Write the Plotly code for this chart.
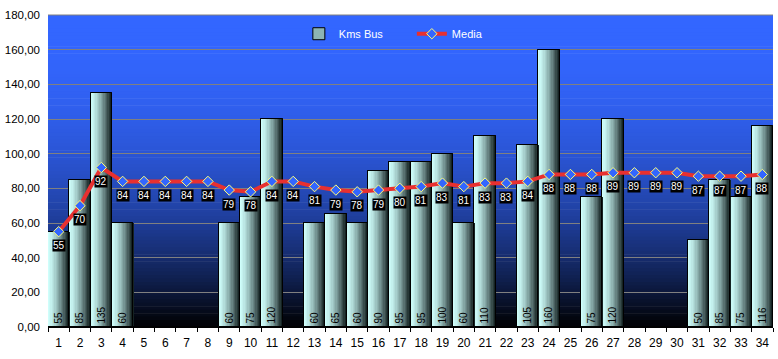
import plotly.graph_objects as go

# ---- data ----
categories = [str(i) for i in range(1, 35)]
kms_bus = [55, 85, 135, 60, 0, 0, 0, 0, 60, 75, 120, 0, 60, 65, 60, 90, 95, 95,
           100, 60, 110, 0, 105, 160, 0, 75, 120, 0, 0, 0, 50, 85, 75, 116]
media = [55, 70, 92, 84, 84, 84, 84, 84, 79, 78, 84, 84, 81, 79, 78, 79, 80, 81,
         83, 81, 83, 83, 84, 88, 88, 88, 89, 89, 89, 89, 87, 87, 87, 88]
y_ticks = [0, 20, 40, 60, 80, 100, 120, 140, 160, 180]

FONT = "Liberation Sans, Arial, sans-serif"

fig = go.Figure()

# bar gradient (left light cyan -> right dark)
light = (208, 255, 252)
dark = (12, 24, 24)
n_slices = 16

def mix(t):
    return "rgb(%d,%d,%d)" % tuple(round(l + (d - l) * t) for l, d in zip(light, dark))

# base trace (legend entry)
fig.add_trace(go.Bar(
    x=categories, y=kms_bus, name="Kms Bus", width=1.0, offset=-0.5,
    marker=dict(color="rgb(140,180,180)", line=dict(color="black", width=1)),
    showlegend=True, hoverinfo="skip"))

for i in range(n_slices):
    t = (i + 0.5) / n_slices
    fig.add_trace(go.Bar(
        x=categories, y=kms_bus, width=1.0 / n_slices + 0.01,
        offset=-0.5 + i / n_slices,
        marker=dict(color=mix(t ** 1.5), line=dict(width=0)),
        showlegend=False, hoverinfo="skip"))

# outline + value labels
fig.add_trace(go.Bar(
    x=categories, y=kms_bus, width=1.0, offset=-0.5,
    marker=dict(color="rgba(0,0,0,0)", line=dict(color="black", width=1)),
    text=[str(v) if v else "" for v in kms_bus],
    textposition="inside", insidetextanchor="start", textangle=-90,
    constraintext="none",
    textfont=dict(family=FONT, size=10, color="black"),
    showlegend=False, hoverinfo="skip"))

fig.add_trace(go.Scatter(
    x=categories, y=media, name="Media", mode="lines+markers",
    line=dict(color="rgb(232,48,48)", width=4),
    marker=dict(symbol="diamond", size=8, color="rgb(51,102,255)",
                line=dict(color="rgb(255,255,120)", width=1)),
    hoverinfo="skip"))

for idx, v in enumerate(media):
    fig.add_annotation(x=idx, y=v, text=str(v), showarrow=False, yshift=-14,
                       bgcolor="black", borderpad=0,
                       font=dict(family=FONT, size=10, color="white"))

# background gradient strips
shapes = []
n_bg = 90
for i in range(n_bg):
    t = (i + 0.5) / n_bg  # from top
    f = max(1 - t ** 2.2, 0.03)
    col = "rgb(%d,%d,%d)" % (round(51 * f), round(102 * f), round(255 * f))
    y1 = 1 - i / n_bg
    y0 = 1 - (i + 1) / n_bg - 0.002
    shapes.append(dict(type="rect", xref="paper", yref="paper", x0=0, x1=1,
                       y0=max(y0, 0), y1=y1, fillcolor=col, line=dict(width=0),
                       layer="below"))
shapes.append(dict(type="line", xref="paper", yref="paper", x0=0, x1=1, y0=1, y1=1,
                   line=dict(color="rgb(128,128,128)", width=1), layer="above"))

fig.update_layout(
    width=778, height=359,
    margin=dict(l=48, r=5, t=15, b=32),
    paper_bgcolor="white", plot_bgcolor="rgba(0,0,0,0)",
    barmode="overlay", bargap=0,
    separators=",.",
    shapes=shapes,
    font=dict(family=FONT, size=12, color="black"),
    legend=dict(orientation="h", x=0.346, xanchor="left", y=0.94, yanchor="middle",
                bgcolor="rgba(0,0,0,0)", font=dict(family=FONT, size=11, color="white"),
                itemwidth=30, entrywidth=68),
    xaxis=dict(type="category", range=[-0.5, 33.5], tickson="boundaries",
               ticks="outside", ticklen=4, tickangle=0, ticklabelstandoff=5,
               tickcolor="black", showline=True, linecolor="black", linewidth=1,
               showgrid=False, tickfont=dict(family=FONT, size=12, color="black")),
    yaxis=dict(range=[0, 180], tickvals=y_ticks, tickformat=".2f",
               showgrid=True, gridcolor="rgb(128,128,128)", gridwidth=1,
               showline=False, zeroline=False, ticks="", ticklabelstandoff=7,
               tickfont=dict(family=FONT, size=11.5, color="black")),
)

fig.write_html("out.html", config={"displayModeBar": False},
               post_script="document.body.style.margin='0';document.body.style.overflow='hidden';")
